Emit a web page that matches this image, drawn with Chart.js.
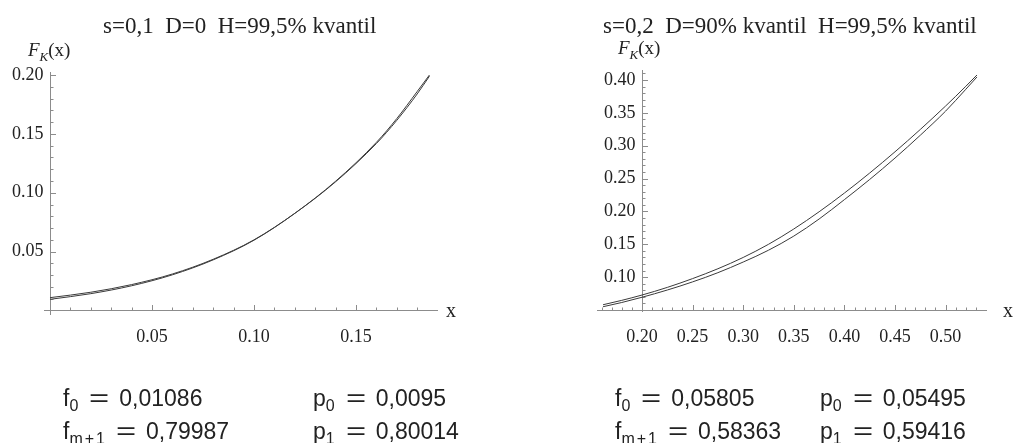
<!DOCTYPE html>
<html><head><meta charset="utf-8">
<script src="https://cdn.jsdelivr.net/npm/chart.js@4.4.0/dist/chart.umd.min.js"></script>
<style>
html,body{margin:0;padding:0;background:#fff;width:1014px;height:443px;overflow:hidden;position:relative}
canvas{position:absolute;top:0}
.t{position:absolute;font-family:"Liberation Serif",serif;color:#222;white-space:pre;line-height:1}
.t sub{font-size:13px;font-style:italic;vertical-align:-5px;line-height:0}
.fm{position:absolute;font-family:"Liberation Sans",sans-serif;font-size:23px;color:#222;white-space:pre;line-height:1}
.fm sub{font-size:16px;vertical-align:-5px;line-height:0}
.fm sub b{font-weight:normal;margin:0 2px}
.eq{display:inline-block;width:22px;text-align:center;margin:0 9px 0 10px;transform:scaleX(1.5)}
i{font-style:italic}
</style></head><body>
<canvas id="c1" width="507" height="443" style="left:0"></canvas>
<canvas id="c2" width="507" height="443" style="left:507px"></canvas>

<div class="t" style="left:103px;top:14px;font-size:23px">s=0,1  D=0  H=99,5% kvantil</div>
<div class="t" style="left:603px;top:14px;font-size:23px">s=0,2  D=90% kvantil  H=99,5% kvantil</div>
<div class="t" style="left:28px;top:40px;font-size:19px"><i>F</i><sub>K</sub>(x)</div>
<div class="t" style="left:618px;top:38px;font-size:19px"><i>F</i><sub>K</sub>(x)</div>
<div class="t" style="left:446px;top:300px;font-size:20px">x</div>
<div class="t" style="left:1003px;top:300px;font-size:20px">x</div>

<div class="fm" style="left:63px;top:387px">f<sub>0</sub><span class="eq">=</span>0,01086</div>
<div class="fm" style="left:63px;top:420px">f<sub>m<b>+</b>1</sub><span class="eq">=</span>0,79987</div>
<div class="fm" style="left:313px;top:387px">p<sub>0</sub><span class="eq">=</span>0,0095</div>
<div class="fm" style="left:313px;top:420px">p<sub>1</sub><span class="eq">=</span>0,80014</div>
<div class="fm" style="left:615px;top:387px">f<sub>0</sub><span class="eq">=</span>0,05805</div>
<div class="fm" style="left:615px;top:420px">f<sub>m<b>+</b>1</sub><span class="eq">=</span>0,58363</div>
<div class="fm" style="left:820px;top:387px">p<sub>0</sub><span class="eq">=</span>0,05495</div>
<div class="fm" style="left:820px;top:420px">p<sub>1</sub><span class="eq">=</span>0,59416</div>

<script>
// ---- data ----
const leftX = [0, 0.02, 0.04, 0.06, 0.08, 0.10, 0.12, 0.14, 0.16, 0.17, 0.18, 0.186];
const leftF = [0.0109, 0.0155, 0.0220, 0.0310, 0.0435, 0.0600, 0.0825, 0.1093, 0.1418, 0.1615, 0.1839, 0.1990];
const leftP = [0.0095, 0.0143, 0.0210, 0.0303, 0.0430, 0.0597, 0.0825, 0.1098, 0.1428, 0.1630, 0.1860, 0.2000];

const rightX = [0.1615, 0.18, 0.20, 0.225, 0.25, 0.275, 0.30, 0.325, 0.35, 0.375, 0.40, 0.425, 0.45, 0.475, 0.50, 0.52, 0.531];
const rightF = [0.0580, 0.0647, 0.0728, 0.0844, 0.0978, 0.1128, 0.1300, 0.1500, 0.1733, 0.1995, 0.2280, 0.2585, 0.2908, 0.3248, 0.3605, 0.3905, 0.4077];
const rightP = [0.0550, 0.0614, 0.0694, 0.0804, 0.0928, 0.1068, 0.1230, 0.1410, 0.1625, 0.1885, 0.2180, 0.2487, 0.2813, 0.3160, 0.3527, 0.3860, 0.4047];

const leftXTicks = [0.05, 0.10, 0.15];
const leftYTicks = [0.05, 0.10, 0.15, 0.20];
const rightXTicks = [0.20, 0.25, 0.30, 0.35, 0.40, 0.45, 0.50];
const rightYTicks = [0.10, 0.15, 0.20, 0.25, 0.30, 0.35, 0.40];

function minorRange(a, b) { const r = []; for (let i = a; i <= b; i++) r.push(i / 100); return r; }

const mathAxes = {
  id: 'mathAxes',
  beforeDatasetsDraw(chart, args, o) {
    const ctx = chart.ctx, xs = chart.scales.x, ys = chart.scales.y, ca = chart.chartArea;
    const ax = Math.round(xs.getPixelForValue(o.yAxisAt)) + 0.5;
    const ay = Math.round(ys.getPixelForValue(o.xAxisAt)) + 0.5;
    ctx.save();
    ctx.strokeStyle = '#8c8c8c';
    ctx.lineWidth = 1;
    ctx.beginPath();
    ctx.moveTo(ca.left, ay); ctx.lineTo(ca.right, ay);
    ctx.moveTo(ax, ca.top); ctx.lineTo(ax, ca.bottom);
    for (const v of o.xMinor) { const p = Math.round(xs.getPixelForValue(v)) + 0.5; ctx.moveTo(p, ay); ctx.lineTo(p, ay - 3); }
    for (const v of o.yMinor) { const p = Math.round(ys.getPixelForValue(v)) + 0.5; ctx.moveTo(ax, p); ctx.lineTo(ax + 3, p); }
    for (const v of o.xMajor) { const p = Math.round(xs.getPixelForValue(v)) + 0.5; ctx.moveTo(p, ay); ctx.lineTo(p, ay - 5.5); }
    for (const v of o.yMajor) { const p = Math.round(ys.getPixelForValue(v)) + 0.5; ctx.moveTo(ax, p); ctx.lineTo(ax + 5.5, p); }
    ctx.stroke();
    ctx.fillStyle = '#222';
    ctx.font = '18px "Liberation Serif"';
    ctx.textAlign = 'center'; ctx.textBaseline = 'middle';
    for (const v of o.xMajor) ctx.fillText(v.toFixed(2), xs.getPixelForValue(v), ay + 27);
    ctx.textAlign = 'right';
    for (const v of o.yMajor) ctx.fillText(v.toFixed(2), ax - 7, ys.getPixelForValue(v));
    ctx.restore();
  }
};

function makeChart(id, xs, f, p, pad, xr, yr, axOpts) {
  const pts = (ys) => xs.map((x, i) => ({ x: x, y: ys[i] }));
  const ds = (ys) => ({ data: pts(ys), borderColor: '#3a3a3a', borderWidth: 1, pointRadius: 0, showLine: true, fill: false, cubicInterpolationMode: 'monotone' });
  return new Chart(document.getElementById(id), {
    type: 'scatter',
    data: { datasets: [ds(f), ds(p)] },
    options: {
      responsive: false, animation: false, devicePixelRatio: 1,
      layout: { padding: pad },
      plugins: { legend: { display: false }, tooltip: { enabled: false }, title: { display: false }, mathAxes: axOpts },
      scales: {
        x: { type: 'linear', display: false, min: xr[0], max: xr[1] },
        y: { type: 'linear', display: false, min: yr[0], max: yr[1] }
      }
    },
    plugins: [mathAxes]
  });
}

makeChart('c1', leftX, leftF, leftP,
  { left: 44, right: 69, top: 72, bottom: 128 },
  [-0.002941, 0.190196], [-0.003822, 0.20255],
  { yAxisAt: 0, xAxisAt: 0, xMajor: leftXTicks, yMajor: leftYTicks, xMinor: minorRange(1, 18), yMinor: minorRange(1, 20) });

makeChart('c2', rightX, rightF, rightP,
  { left: 90, right: 27, top: 70, bottom: 131 },
  [0.15553, 0.54091], [0.04696, 0.41530],
  { yAxisAt: 0.20, xAxisAt: 0.05, xMajor: rightXTicks, yMajor: rightYTicks, xMinor: minorRange(16, 53), yMinor: minorRange(6, 41) });
</script>
</body></html>
